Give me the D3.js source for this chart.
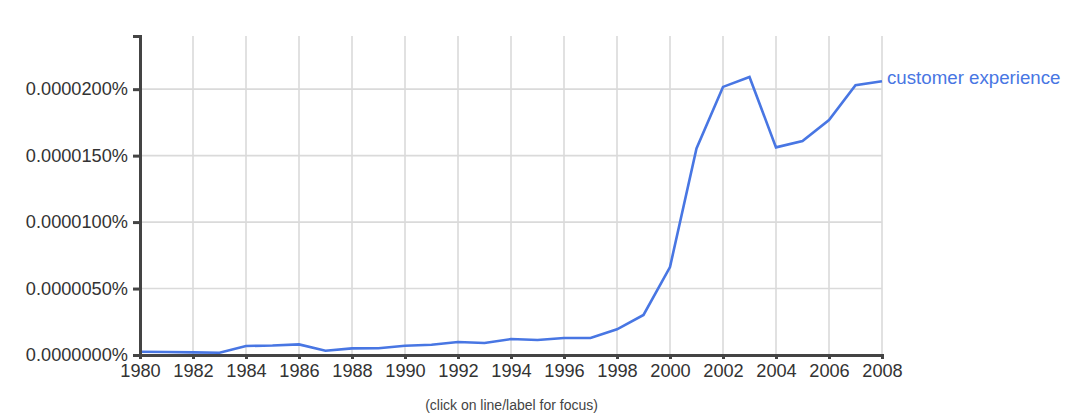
<!DOCTYPE html>
<html>
<head>
<meta charset="utf-8">
<script src="https://cdn.jsdelivr.net/npm/d3@7"></script>
<style>
  html, body { margin: 0; padding: 0; background: #fff; }
  svg { display: block; font-family: "Liberation Sans", Arial, sans-serif; }
</style>
</head>
<body>
<svg id="chart" width="1087" height="413"></svg>
<script>
// Data (values are in percent)
const years = [1980,1981,1982,1983,1984,1985,1986,1987,1988,1989,1990,1991,1992,1993,1994,1995,1996,1997,1998,1999,2000,2001,2002,2003,2004,2005,2006,2007,2008];
const values = [0.00000025,0.00000023,0.00000020,0.00000017,0.00000068,0.00000071,0.00000080,0.00000032,0.00000050,0.00000051,0.00000070,0.00000077,0.00000098,0.00000090,0.00000120,0.00000113,0.00000128,0.00000128,0.00000193,0.00000301,0.00000662,0.00001554,0.00002017,0.00002092,0.00001562,0.00001609,0.00001767,0.00002030,0.00002060];
const seriesName = "customer experience";
const yTicks = [0, 0.000005, 0.00001, 0.000015, 0.00002];
const xTicks = [1980,1982,1984,1986,1988,1990,1992,1994,1996,1998,2000,2002,2004,2006,2008];
const caption = "(click on line/label for focus)";

const W = 1087, H = 413;
const margin = {left: 140, right: 205, top: 36, bottom: 58};
const svg = d3.select("#chart");
const x = d3.scaleLinear().domain([1980, 2008]).range([margin.left, W - margin.right]);
const y = d3.scaleLinear().domain([0, 0.000024]).range([H - margin.bottom, margin.top]);

// grid
const grid = svg.append("g");
grid.selectAll("line.v").data(xTicks.slice(1)).join("line")
  .attr("x1", d => x(d)).attr("x2", d => x(d))
  .attr("y1", margin.top).attr("y2", H - margin.bottom)
  .attr("stroke", "#dadada").attr("stroke-width", 1.6);
grid.selectAll("line.h").data(yTicks.slice(1)).join("line")
  .attr("x1", margin.left).attr("x2", W - margin.right)
  .attr("y1", d => y(d)).attr("y2", d => y(d))
  .attr("stroke", "#dadada").attr("stroke-width", 1.6);

// line
const line = d3.line().x((d, i) => x(years[i])).y(d => y(d));
svg.append("path").datum(values)
  .attr("d", line).attr("fill", "none")
  .attr("stroke", "#4876e3").attr("stroke-width", 2.6)
  .attr("stroke-linejoin", "miter");

// label
svg.append("text")
  .attr("x", x(2008) + 5).attr("y", y(values[values.length - 1]) - 4)
  .attr("dy", "0.35em")
  .attr("fill", "#4876e3").attr("font-size", "18.7px")
  .text(seriesName);

// axes
const fmt = d3.format(".7f");
const yAxis = d3.axisLeft(y).tickValues(yTicks).tickFormat(d => fmt(d) + "%").tickSize(7).tickSizeOuter(7).tickPadding(5);
const xAxis = d3.axisBottom(x).tickValues(xTicks).tickFormat(d3.format("d")).tickSize(4).tickSizeOuter(4).tickPadding(5);

const gy = svg.append("g").attr("transform", `translate(${margin.left},0)`).call(yAxis);
const gx = svg.append("g").attr("transform", `translate(0,${H - margin.bottom})`).call(xAxis);
[gx, gy].forEach(g => {
  g.selectAll("path.domain").attr("stroke", "#444").attr("stroke-width", 3);
  g.selectAll(".tick line").attr("stroke", "#444").attr("stroke-width", 3);
  g.selectAll("text").attr("fill", "#333").attr("font-size", "18.2px")
    .attr("font-family", "'Liberation Sans', Arial, sans-serif");
});

// caption
svg.append("text")
  .attr("x", 511.5).attr("y", 410)
  .attr("text-anchor", "middle")
  .attr("fill", "#444").attr("font-size", "14px")
  .text(caption);
</script>
</body>
</html>
